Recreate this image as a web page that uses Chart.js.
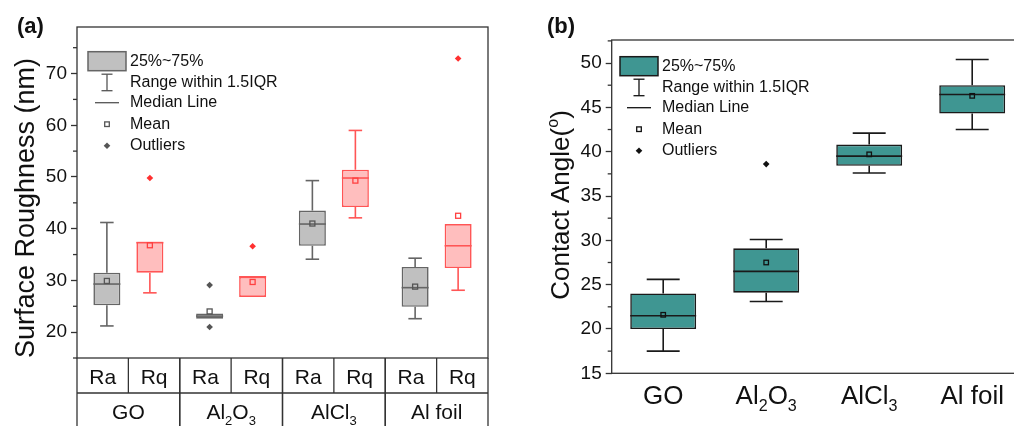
<!DOCTYPE html>
<html>
<head>
<meta charset="utf-8">
<script src="https://cdn.jsdelivr.net/npm/chart.js@4.4.1/dist/chart.umd.min.js"></script>
<style>
  html, body { margin: 0; padding: 0; background: #fff; overflow: hidden; width: 1014px; height: 426px; }
  #wa { position: absolute; left: 0; top: 0; }
  #wb { position: absolute; left: 510px; top: 0; }
</style>
</head>
<body>
<div id="wa"><canvas id="chartA" width="510" height="426"></canvas></div>
<div id="wb"><canvas id="chartB" width="530" height="426"></canvas></div>
<script>
// ---- shared categories ----
const groups = ['GO', 'Al2O3', 'AlCl3', 'Al foil'];
const rowLabels = ['Ra', 'Rq'];
const legendItems = ['25%~75%', 'Range within 1.5IQR', 'Median Line', 'Mean', 'Outliers'];

// ---- (a) surface roughness (nm) ----
const raQ1   = [25.2, 22.6, 36.7, 24.9];
const raQ3   = [31.5, 23.6, 43.5, 32.6];
const raMed  = [29.3, 23.1, 40.9, 28.6];
const raMean = [29.9, 24.0, 41.0, 28.8];
const raLo   = [21.2, 22.6, 34.1, 22.6];
const raHi   = [41.2, 23.6, 49.3, 34.3];
const raOut  = [[], [29.1, 21.0], [], []];

const rqQ1   = [31.5, 26.8, 44.2, 32.4];
const rqQ3   = [37.5, 30.7, 51.4, 40.9];
const rqMed  = [37.3, 30.7, 49.8, 36.7];
const rqMean = [36.8, 29.7, 49.3, 42.5];
const rqLo   = [27.6, 26.8, 42.1, 28.1];
const rqHi   = [37.5, 30.7, 59.0, 40.9];
const rqOut  = [[49.8], [36.6], [], [72.9]];

// ---- (b) contact angle (deg) ----
const caQ1   = [20.0, 24.1, 38.4, 44.3];
const caQ3   = [24.0, 29.1, 40.8, 47.5];
const caMed  = [21.5, 26.5, 39.5, 46.45];
const caMean = [21.6, 27.5, 39.7, 46.3];
const caLo   = [17.5, 23.1, 37.6, 42.5];
const caHi   = [25.6, 30.1, 42.1, 50.4];
const caOut  = [[], [38.6], [], []];

const FONT = "'Liberation Sans', Arial, sans-serif";
const isMajor = (v, m) => Math.abs(v / m - Math.round(v / m)) < 1e-6;

function seg(ctx, x1, y1, x2, y2) {
    ctx.beginPath();
    ctx.moveTo(x1, y1);
    ctx.lineTo(x2, y2);
    ctx.stroke();
}

function diamond(ctx, x, y, r, color) {
    ctx.fillStyle = color;
    ctx.beginPath();
    ctx.moveTo(x, y - r);
    ctx.lineTo(x + r, y);
    ctx.lineTo(x, y + r);
    ctx.lineTo(x - r, y);
    ctx.closePath();
    ctx.fill();
}

// digits become subscripts: Al2O3 -> Al, 2, O, 3
function richParts(str) {
    return str.split(/(\d+)/).filter(s => s).map(s => ({ t: s, sub: /^\d+$/.test(s) }));
}

// cy is the middle of the capitals
function drawRich(ctx, parts, cx, cy, size, bold) {
    const fontOf = p => (bold ? 'bold ' : '') + ((p.sub || p.sup) ? size * 0.62 : size) + 'px ' + FONT;
    let total = 0;
    parts.forEach(p => { ctx.font = fontOf(p); p.w = ctx.measureText(p.t).width; total += p.w; });
    let x = cx - total / 2;
    const base = cy + size * 0.36;
    ctx.textAlign = 'left';
    ctx.textBaseline = 'alphabetic';
    parts.forEach(p => {
        ctx.font = fontOf(p);
        const dy = p.sub ? size * 0.28 : p.sup ? -size * 0.42 : 0;
        ctx.fillText(p.t, x, base + dy);
        x += p.w;
    });
}

function yAxis(min, max, step, major, width) {
    return {
        min: min,
        max: max,
        afterFit: s => { s.width = width; },
        border: { display: false },
        grid: {
            drawOnChartArea: false,
            tickLength: 6,
            tickWidth: 1.3,
            tickColor: c => isMajor(c.tick.value, major) ? '#333' : 'rgba(0,0,0,0)'
        },
        ticks: {
            stepSize: step,
            includeBounds: false,
            autoSkip: false,
            padding: 4,
            color: '#111',
            font: { family: FONT, size: 19 },
            callback: v => isMajor(v, major) ? v : ''
        }
    };
}

// whiskers, median, mean and outliers on top of the floating bars
const boxes = {
    id: 'boxes',
    afterDatasetsDraw(chart) {
        const ctx = chart.ctx;
        const y = chart.scales.y;
        chart.data.datasets.forEach((ds, d) => {
            chart.getDatasetMeta(d).data.forEach((bar, i) => {
                const x = bar.x, w = bar.width;
                const q1 = ds.data[i][0], q3 = ds.data[i][1];
                ctx.save();
                ctx.strokeStyle = ds.borderColor;
                ctx.lineWidth = ds.borderWidth;
                [[q3, ds.hi[i]], [q1, ds.lo[i]]].forEach(([a, b]) => {
                    if (a === b) return;
                    const ya = y.getPixelForValue(a), yb = y.getPixelForValue(b);
                    seg(ctx, x, ya, x, yb);
                    seg(ctx, x - w / 4, yb, x + w / 4, yb);
                });
                const ym = y.getPixelForValue(ds.med[i]);
                seg(ctx, x - w / 2, ym, x + w / 2, ym);
                const yn = y.getPixelForValue(ds.mean[i]);
                const s = ds.meanSize;
                ctx.strokeStyle = ds.meanColor;
                ctx.lineWidth = 1.3;
                ctx.strokeRect(x - s / 2, yn - s / 2, s, s);
                ds.out[i].forEach(v => diamond(ctx, x, y.getPixelForValue(v), 3.3, ds.outColor));
                ctx.restore();
            });
        });
    }
};

function drawLegend(ctx, a, L) {
    const bx = a.left + L.dx, by = a.top + L.dy, mx = bx + 19, tx = bx + 42;
    ctx.fillStyle = L.fill;
    ctx.fillRect(bx, by, 38, 19);
    ctx.strokeStyle = L.stroke;
    ctx.lineWidth = 1.5;
    ctx.strokeRect(bx, by, 38, 19);
    ctx.strokeStyle = L.line;
    ctx.lineWidth = 1.3;
    seg(ctx, mx, by + 22.5, mx, by + 39);
    seg(ctx, mx - 5.5, by + 22.5, mx + 5.5, by + 22.5);
    seg(ctx, mx - 5.5, by + 39, mx + 5.5, by + 39);
    seg(ctx, bx + 7, by + 51, bx + 31, by + 51);
    ctx.strokeStyle = L.mean;
    ctx.strokeRect(mx - 2.3, by + 72.5 - 2.3, 4.6, 4.6);
    diamond(ctx, mx, by + 94, 3.3, L.out);
    ctx.fillStyle = '#111';
    ctx.font = '16px ' + FONT;
    ctx.textAlign = 'left';
    ctx.textBaseline = 'middle';
    const rows = [10, 30.6, 51.3, 72.8, 94];
    legendItems.forEach((t, k) => ctx.fillText(t, tx, by + rows[k]));
}

// frame, minor ticks, titles, legend and category labels
const decor = {
    id: 'decor',
    afterDraw(chart, args, o) {
        const { ctx, chartArea: a } = chart;
        const x = chart.scales.x, y = chart.scales.y;
        ctx.save();
        ctx.strokeStyle = '#333';
        ctx.lineWidth = 1.3;
        ctx.strokeRect(a.left, a.top, a.right - a.left, a.bottom - a.top);
        y.ticks.forEach(t => {
            if (isMajor(t.value, o.major)) return;
            const py = y.getPixelForValue(t.value);
            seg(ctx, a.left - 4, py, a.left, py);
        });

        ctx.fillStyle = '#111';
        ctx.font = 'bold 22px ' + FONT;
        ctx.textAlign = 'left';
        ctx.textBaseline = 'middle';
        ctx.fillText(o.panel, o.panelX, 27);

        ctx.save();
        ctx.translate(o.titleX, o.titleY);
        ctx.rotate(-Math.PI / 2);
        drawRich(ctx, o.title, 0, 0, o.titleSize);
        ctx.restore();

        drawLegend(ctx, a, o.legend);

        ctx.fillStyle = '#111';
        ctx.strokeStyle = '#333';
        ctx.lineWidth = 1.3;
        const cw = (a.right - a.left) / groups.length;
        if (o.table) {
            const r1 = a.bottom + 35;
            seg(ctx, a.left, r1, a.right, r1);
            groups.forEach((g, i) => {
                const cx = x.getPixelForValue(i);
                seg(ctx, cx - cw / 2, a.bottom, cx - cw / 2, chart.height);
                seg(ctx, cx + cw / 2, a.bottom, cx + cw / 2, chart.height);
                seg(ctx, cx, a.bottom, cx, r1);
                drawRich(ctx, [{ t: rowLabels[0] }], cx - cw / 4, a.bottom + 18, 21);
                drawRich(ctx, [{ t: rowLabels[1] }], cx + cw / 4, a.bottom + 18, 21);
                drawRich(ctx, richParts(g), cx, r1 + 18.5, 21);
            });
        } else {
            groups.forEach((g, i) => drawRich(ctx, richParts(g), x.getPixelForValue(i), a.bottom + 21, 26));
        }
        ctx.restore();
    }
};

function floating(q1, q3) {
    return q1.map((v, i) => [v, q3[i]]);
}

new Chart(document.getElementById('chartA'), {
    type: 'bar',
    data: {
        labels: groups,
        datasets: [
            {
                label: 'Ra', data: floating(raQ1, raQ3),
                lo: raLo, hi: raHi, med: raMed, mean: raMean, out: raOut,
                backgroundColor: '#c0c0c0', borderColor: '#656565',
                meanColor: '#555', outColor: '#555', meanSize: 5,
                borderWidth: 1.6, borderSkipped: false,
                categoryPercentage: 0.837, barPercentage: 0.628
            },
            {
                label: 'Rq', data: floating(rqQ1, rqQ3),
                lo: rqLo, hi: rqHi, med: rqMed, mean: rqMean, out: rqOut,
                backgroundColor: '#ffbebe', borderColor: '#ff5555',
                meanColor: '#ff4040', outColor: '#ff3030', meanSize: 5,
                borderWidth: 1.6, borderSkipped: false,
                categoryPercentage: 0.837, barPercentage: 0.628
            }
        ]
    },
    options: {
        responsive: false,
        animation: false,
        layout: { padding: { left: 0, top: 27, right: 22, bottom: 68 } },
        scales: {
            x: { display: false },
            y: yAxis(15, 79, 5, 10, 77)
        },
        plugins: {
            legend: { display: false },
            tooltip: { enabled: false },
            decor: {
                major: 10, panel: '(a)', panelX: 17,
                title: [{ t: 'Surface Roughness (nm)' }], titleX: 24, titleY: 208, titleSize: 27,
                table: true,
                legend: { dx: 11, dy: 24.7, fill: '#c0c0c0', stroke: '#656565', line: '#555', mean: '#555', out: '#555' }
            }
        }
    },
    plugins: [boxes, decor]
});

new Chart(document.getElementById('chartB'), {
    type: 'bar',
    data: {
        labels: groups,
        datasets: [
            {
                label: 'Contact angle', data: floating(caQ1, caQ3),
                lo: caLo, hi: caHi, med: caMed, mean: caMean, out: caOut,
                backgroundColor: '#3f9692', borderColor: '#1a1a1a',
                meanColor: '#111', outColor: '#111', meanSize: 4.5,
                borderWidth: 1.6, borderSkipped: false,
                categoryPercentage: 1, barPercentage: 0.64
            }
        ]
    },
    options: {
        responsive: false,
        animation: false,
        layout: { padding: { left: 0, top: 40, right: 16.3, bottom: 52.7 } },
        scales: {
            x: { display: false },
            y: yAxis(15, 52.6, 2.5, 5, 101.7)
        },
        plugins: {
            legend: { display: false },
            tooltip: { enabled: false },
            decor: {
                major: 5, panel: '(b)', panelX: 37,
                title: [{ t: 'Contact Angle(' }, { t: 'o', sup: true }, { t: ')' }], titleX: 50, titleY: 205, titleSize: 26,
                table: false,
                legend: { dx: 8.3, dy: 16.7, fill: '#3f9692', stroke: '#1a1a1a', line: '#111', mean: '#111', out: '#111' }
            }
        }
    },
    plugins: [boxes, decor]
});
</script>
</body>
</html>
